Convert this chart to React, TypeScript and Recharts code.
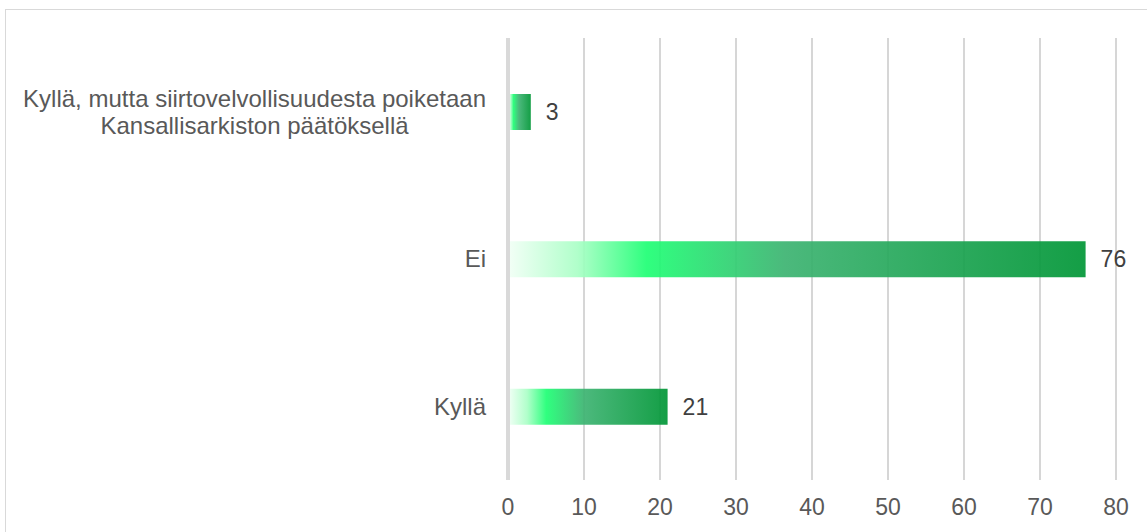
import {
  BarChart,
  Bar,
  XAxis,
  YAxis,
  CartesianGrid,
  ReferenceLine,
  LabelList,
} from 'recharts';

const categories = [
  'Kyllä, mutta siirtovelvollisuudesta poiketaan\nKansallisarkiston päätöksellä',
  'Ei',
  'Kyllä',
];
const values = [3, 76, 21];
const xTicks = [0, 10, 20, 30, 40, 50, 60, 70, 80];

const FONT = '"Liberation Sans", Arial, sans-serif';
const LABEL_SIZE = 24;

let ctx: CanvasRenderingContext2D | null = null;
function textWidth(s: string): number {
  if (!ctx) ctx = document.createElement('canvas').getContext('2d');
  if (!ctx) return s.length * LABEL_SIZE * 0.5;
  ctx.font = `${LABEL_SIZE}px "Liberation Sans", Arial`;
  return ctx.measureText(s).width;
}

function CategoryTick(props: any) {
  const { x, y, payload } = props;
  const lines = String(payload.value).split('\n');
  if (lines.length === 1) {
    return (
      <text x={x} y={y} dy="0.35em" textAnchor="end" fill="#595959" fontSize={LABEL_SIZE} fontFamily={FONT}>
        {lines[0]}
      </text>
    );
  }
  const blockW = Math.max(...lines.map(textWidth));
  const cx = x - blockW / 2;
  const lh = 27;
  return (
    <g>
      {lines.map((l, i) => (
        <text
          key={i}
          x={cx}
          y={y + (i - (lines.length - 1) / 2) * lh}
          dy="0.35em"
          textAnchor="middle"
          fill="#595959"
          fontSize={LABEL_SIZE}
          fontFamily={FONT}
        >
          {l}
        </text>
      ))}
    </g>
  );
}

export default function App() {
  const data = categories.map((name, i) => ({ name, value: values[i] }));

  return (
    <div
      style={{
        position: 'absolute',
        left: 0,
        top: 0,
        width: 1147,
        height: 532,
        overflow: 'hidden',
        background: '#fff',
      }}
    >
      <div
        style={{
          position: 'absolute',
          left: 5,
          top: 9,
          width: 1160,
          height: 560,
          border: '1px solid #d9d9d9',
        }}
      />
      <div style={{ position: 'absolute', left: 0, top: 0 }}>
        <BarChart
          width={1147}
          height={532}
          data={data}
          layout="vertical"
          margin={{ top: 38, right: 31, bottom: 0, left: 0 }}
        >
          <defs>
            <linearGradient id="barFill" x1="0" y1="0" x2="1" y2="0">
              <stop offset="0" stopColor="#f2fff6" />
              <stop offset="0.12" stopColor="#aaffc6" />
              <stop offset="0.24" stopColor="#1eff74" />
              <stop offset="0.48" stopColor="#3cb371" />
              <stop offset="1" stopColor="#009636" />
            </linearGradient>
          </defs>
          <CartesianGrid horizontal={false} stroke="#c8c8c8" strokeWidth={1.5} />
          <XAxis
            type="number"
            domain={[0, 80]}
            ticks={xTicks}
            axisLine={false}
            tickLine={false}
            tickMargin={13}
            height={52}
            tick={{ fill: '#595959', fontSize: 23, fontFamily: FONT }}
          />
          <YAxis
            type="category"
            dataKey="name"
            width={508}
            axisLine={false}
            tickLine={false}
            tickMargin={16}
            interval={0}
            tick={<CategoryTick />}
          />
          <Bar
            dataKey="value"
            fill="url(#barFill)"
            fillOpacity={0.92}
            barSize={36}
            isAnimationActive={false}
          >
            <LabelList
              dataKey="value"
              position="right"
              offset={15}
              fill="#404040"
              fontSize={23}
              fontFamily={FONT}
            />
          </Bar>
          <ReferenceLine x={0} stroke="#d9d9d9" strokeWidth={4} />
        </BarChart>
      </div>
    </div>
  );
}
